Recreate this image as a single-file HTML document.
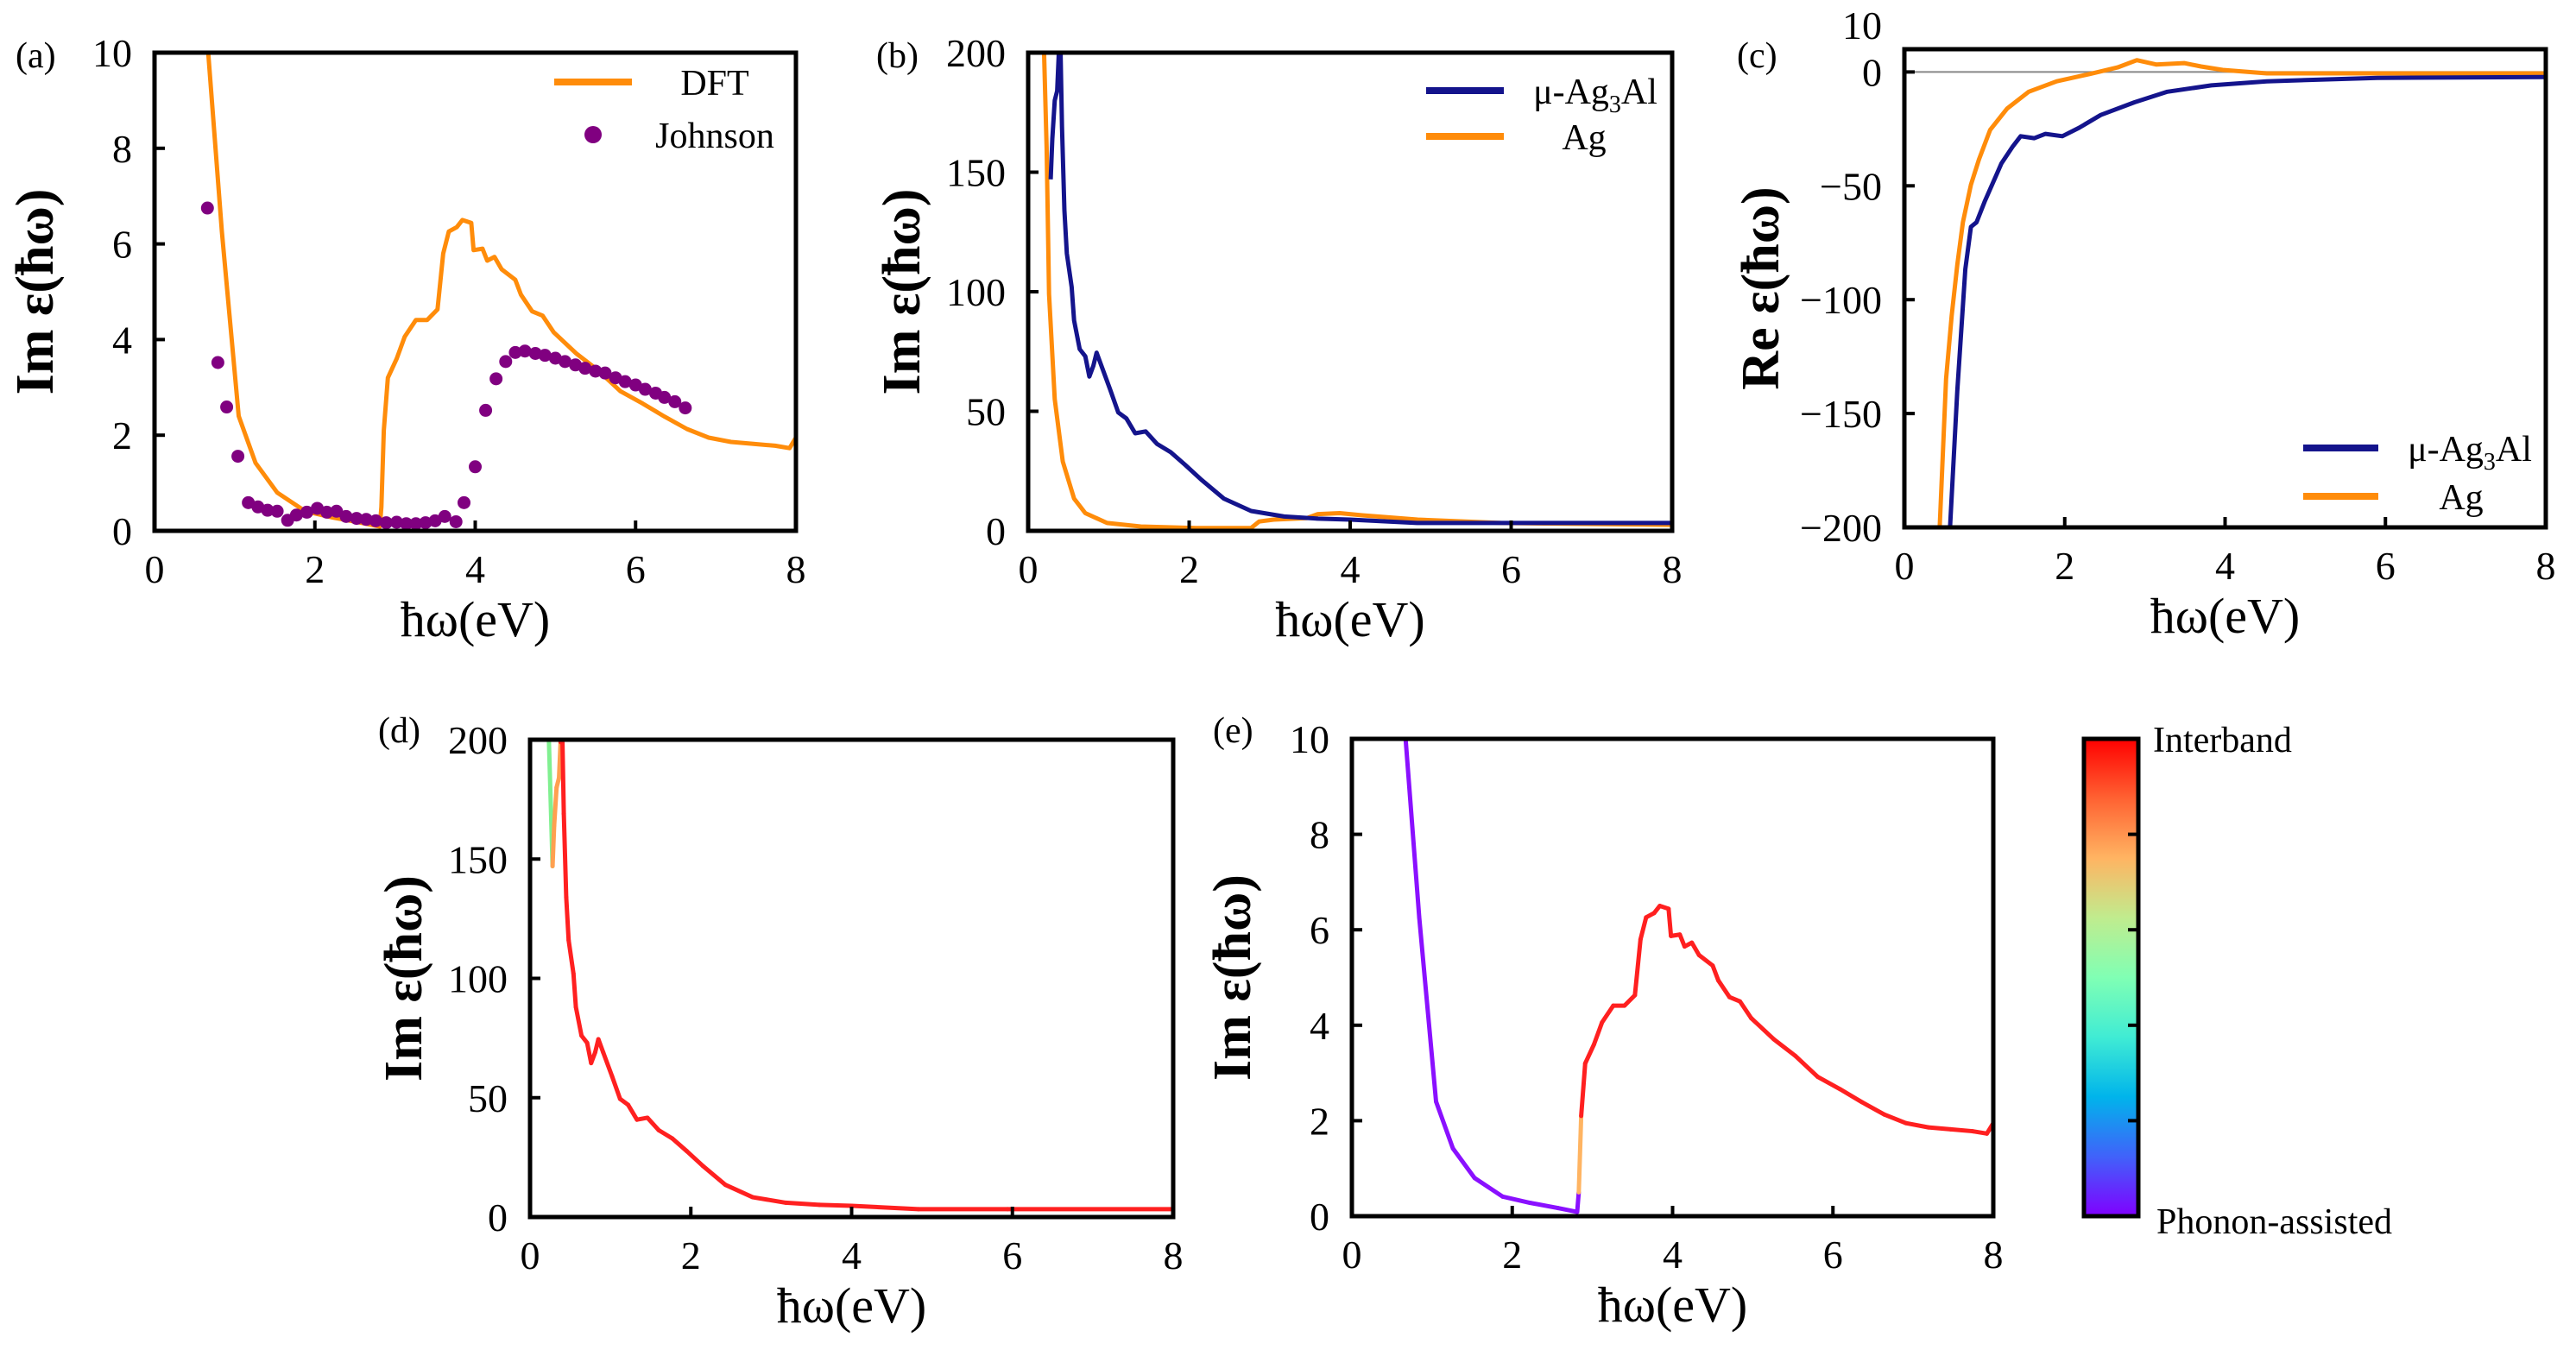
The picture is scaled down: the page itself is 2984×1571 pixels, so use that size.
<!DOCTYPE html>
<html><head><meta charset="utf-8"><style>
html,body{margin:0;padding:0;background:#fff;}
svg{display:block;font-family:"Liberation Serif",serif;}
</style></head><body>
<svg id="fig" width="2984" height="1571" viewBox="0 0 2984 1571" xmlns="http://www.w3.org/2000/svg">
<defs>
<linearGradient id="rainbow" x1="0" y1="1" x2="0" y2="0">
<stop offset="0" stop-color="#8000ff"/><stop offset="0.125" stop-color="#4062fa"/><stop offset="0.25" stop-color="#00b4eb"/><stop offset="0.375" stop-color="#40ecd4"/><stop offset="0.5" stop-color="#80ffb4"/><stop offset="0.625" stop-color="#c0ec8e"/><stop offset="0.75" stop-color="#ffb462"/><stop offset="0.875" stop-color="#ff6232"/><stop offset="1" stop-color="#ff0000"/>
</linearGradient>
</defs>
</svg>
<script>
// ---- data ----
const xTickVals=[0,2,4,6,8];
const imSmallTicks=[0,2,4,6,8,10];
const imLargeTicks=[0,50,100,150,200];
const reTicks=[10,0,-50,-100,-150,-200];
const reTickLabels=["10","0","\u221250","\u2212100","\u2212150","\u2212200"];

const dftX=[0.65,0.67,0.84,1.05,1.26,1.53,1.88,2.22,2.57,2.81,2.83,2.86,2.91,3.02,3.12,3.26,3.40,3.53,3.60,3.67,3.77,3.84,3.95,3.98,4.09,4.15,4.24,4.33,4.50,4.57,4.71,4.84,4.98,5.26,5.53,5.81,6.09,6.36,6.64,6.91,7.19,7.47,7.74,7.92,8.0];
const dftY=[11,10,6.26,2.4,1.42,0.8,0.41,0.28,0.17,0.09,0.5,2.1,3.2,3.6,4.06,4.41,4.41,4.63,5.8,6.26,6.35,6.5,6.44,5.87,5.9,5.65,5.73,5.47,5.25,4.94,4.59,4.5,4.15,3.71,3.36,2.92,2.66,2.39,2.13,1.95,1.86,1.82,1.78,1.73,1.95];

const johnsonX=[0.66,0.79,0.90,1.04,1.17,1.29,1.41,1.53,1.66,1.77,1.90,2.03,2.15,2.27,2.39,2.52,2.64,2.76,2.89,3.02,3.14,3.26,3.38,3.50,3.62,3.76,3.86,4.0,4.13,4.26,4.38,4.5,4.62,4.75,4.87,5.0,5.12,5.25,5.37,5.5,5.62,5.75,5.87,6.0,6.12,6.25,6.36,6.49,6.62];
const johnsonY=[6.75,3.52,2.59,1.56,0.59,0.5,0.43,0.41,0.22,0.33,0.39,0.47,0.39,0.41,0.3,0.26,0.24,0.21,0.17,0.18,0.15,0.15,0.17,0.21,0.3,0.19,0.59,1.34,2.52,3.18,3.54,3.73,3.76,3.71,3.67,3.61,3.54,3.47,3.4,3.34,3.3,3.2,3.12,3.05,2.96,2.88,2.79,2.7,2.57];

const ag3alImX=[0.28,0.30,0.33,0.36,0.38,0.40,0.42,0.45,0.48,0.54,0.57,0.64,0.71,0.76,0.81,0.85,0.91,1.02,1.12,1.22,1.33,1.46,1.60,1.77,1.95,2.15,2.43,2.77,3.18,3.6,4.0,4.83,5.94,8.0];
const ag3alImY=[147,164,180,184,199,205,169,134,116,102,88,76,73,64.5,69,74.5,69,59,49.5,47,40.8,41.6,36.4,32.9,27.6,21.4,13.5,8.3,6,5.1,4.7,3.3,3.3,3.3];

const agImX=[0.19,0.23,0.26,0.33,0.43,0.57,0.71,0.98,1.4,2.08,2.77,2.87,3.05,3.46,3.6,3.87,4.15,4.84,5.87,8.0];
const agImY=[210,160,99,55,29,13.5,7.4,3.3,1.8,1.2,1.2,3.9,4.7,5.3,7.0,7.4,6.5,4.7,3.3,2.5];

const agReX=[0.42,0.44,0.52,0.59,0.66,0.73,0.83,0.93,1.07,1.28,1.55,1.9,2.31,2.66,2.9,3.14,3.49,3.7,3.97,4.52,8.0];
const agReY=[-215,-200,-134.8,-107,-84.7,-66,-49.5,-38.4,-25.4,-16.1,-8.7,-4.1,-0.9,2,5.2,3.3,3.9,2.4,0.9,-0.6,-0.6];

const ag3alReX=[0.56,0.57,0.66,0.76,0.83,0.9,1.0,1.14,1.21,1.35,1.45,1.62,1.76,1.97,2.18,2.45,2.87,3.28,3.83,4.52,5.9,8.0];
const ag3alReY=[-215,-200,-140,-86.6,-68,-66,-57,-45.8,-40.2,-32.8,-28.2,-29.1,-27.2,-28.2,-24.5,-18.9,-13.3,-8.7,-5.9,-4.1,-2.6,-2.2];

const dPrefixX=[0.23];
const dPrefixY=[205];
const dBreaks=[0.29,0.38];
const dColors=["#80f090","#ffa050","#ff2020"];
const eBreaks=[2.83,2.86];
const eColors=["#8a10ff","#ffb462","#ff2020"];
const cbTickFrac=[0.2,0.4,0.6,0.8];

// ---- helpers ----
const NS="http://www.w3.org/2000/svg";
const svg=document.getElementById("fig");
function el(tag,attrs,parent){const e=document.createElementNS(NS,tag);for(const k in attrs)e.setAttribute(k,attrs[k]);(parent||svg).appendChild(e);return e;}
function scales(f,xd,yd){return{x:v=>f.l+(v-xd[0])/(xd[1]-xd[0])*(f.r-f.l),y:v=>f.b-(v-yd[0])/(yd[1]-yd[0])*(f.b-f.t)};}
let clipId=0;
function panel(name,f,xd,yd,yt,ytl,ytitle,letter,raiseTop){
  const g=el("g",{});
  
  
  const s=scales(f,xd,yd);
  const cid="clip"+(clipId++);
  const cp=el("clipPath",{id:cid},g);el("rect",{x:f.l,y:f.t,width:f.r-f.l,height:f.b-f.t},cp);
  const plot=el("g",{"clip-path":"url(#"+cid+")"},g);
  
  
  xTickVals.forEach(v=>{
    const t=el("line",{x1:s.x(v),x2:s.x(v),y1:f.b,y2:f.b-12,stroke:"#000","stroke-width":4},g);
    
    
    const tl=el("text",{x:s.x(v),y:f.b+60,"text-anchor":"middle","font-size":46},g);tl.textContent=String(v);
    
    
  });
  yt.forEach((v,i)=>{
    const t=el("line",{x1:f.l,x2:f.l+12,y1:s.y(v),y2:s.y(v),stroke:"#000","stroke-width":4},g);
    
    
    const off=(raiseTop&&i===0)?-28:0;
    const tl=el("text",{x:f.l-26,y:s.y(v)+16+off,"text-anchor":"end","font-size":46},g);tl.textContent=ytl?ytl[i]:String(v);
    
    
  });
  const xt=el("text",{x:(f.l+f.r)/2,y:f.b+122,"text-anchor":"middle","font-size":58},g);xt.textContent="\u0127\u03c9(eV)";
  
  
  const cy=(f.t+f.b)/2;
  const tx=f.l-(f.tOff||118);
  const yT=el("text",{x:tx,y:cy,"text-anchor":"middle","font-size":62,"font-weight":"bold",transform:"rotate(-90 "+tx+" "+cy+")"},g);yT.textContent=ytitle;
  
  
  const lt=el("text",{x:f.lx,y:f.ly,"font-size":42},g);lt.textContent=letter;
  
  
  return {g,plot,s,f};
}
function frame(p){const r=el("rect",{x:p.f.l,y:p.f.t,width:p.f.r-p.f.l,height:p.f.b-p.f.t,fill:"none",stroke:"#000","stroke-width":5},p.g);
  
  }
function line(p,xs,ys,color,w,name){
  const d=xs.map((x,i)=>(i?"L":"M")+p.s.x(x).toFixed(1)+","+p.s.y(ys[i]).toFixed(1)).join("");
  const e=el("path",{d:d,fill:"none",stroke:color,"stroke-width":w,"stroke-linejoin":"round"},p.plot);
  
  
}
function segLine(p,xs,ys,breaks,colors,w,name){
  for(let i=0;i<xs.length-1;i++){
    const mid=(xs[i]+xs[i+1])/2;let c=colors[colors.length-1];
    for(let k=0;k<breaks.length;k++){if(mid<breaks[k]){c=colors[k];break;}}
    const e=el("line",{x1:p.s.x(xs[i]),y1:p.s.y(ys[i]),x2:p.s.x(xs[i+1]),y2:p.s.y(ys[i+1]),stroke:c,"stroke-width":w,"stroke-linecap":"round"},p.plot);
    
    
  }
}
function legLine(g,x1,x2,y,color,name){const e=el("line",{x1:x1,x2:x2,y1:y,y2:y,stroke:color,"stroke-width":8},g);
  
  }
function legText(g,x,y,html,name){const e=el("text",{x:x,y:y,"text-anchor":"middle","font-size":42},g);e.innerHTML=html;
  
  }

const ORANGE="#ff8c0a",NAVY="#14148c";
const ag3alLabel='\u03bc-Ag<tspan font-size="28" dy="10">3</tspan><tspan dy="-10">Al</tspan>';

// (a)
const pa=panel("panel-a",{l:179,r:922,t:61,b:615,lx:18,ly:78},[0,8],[0,10],imSmallTicks,null,"Im \u03b5(\u0127\u03c9)","(a)");
line(pa,dftX,dftY,ORANGE,5,"dft-line");
johnsonX.forEach((x,i)=>{const c=el("circle",{cx:pa.s.x(x),cy:pa.s.y(johnsonY[i]),r:7.5,fill:"#800080"},pa.plot);
  
  });
frame(pa);
legLine(pa.g,642,732,95,ORANGE,"legend-dft-line");legText(pa.g,828,110,"DFT","legend-dft-label");
{const c=el("circle",{cx:687,cy:156,r:10,fill:"#800080"},pa.g);
  
  }
legText(pa.g,828,171,"Johnson","legend-johnson-label");

// (b)
const pb=panel("panel-b",{l:1191,r:1937,t:61,b:615,lx:1015,ly:78,tOff:126},[0,8],[0,200],imLargeTicks,null,"Im \u03b5(\u0127\u03c9)","(b)");
line(pb,agImX,agImY,ORANGE,5,"ag-im-line");
line(pb,ag3alImX,ag3alImY,NAVY,5,"ag3al-im-line");
frame(pb);
legLine(pb.g,1652,1742,105,NAVY,"legend-ag3al-line");legText(pb.g,1848,120,ag3alLabel,"legend-ag3al-label");
legLine(pb.g,1652,1742,158,ORANGE,"legend-ag-line");legText(pb.g,1835,173,"Ag","legend-ag-label");

// (c)
const pc=panel("panel-c",{l:2206,r:2949,t:57,b:611,lx:2012,ly:78,tOff:146},[0,8],[-200,10],reTicks,reTickLabels,"Re \u03b5(\u0127\u03c9)","(c)",true);
{const z=el("line",{x1:2206,x2:2949,y1:pc.s.y(0),y2:pc.s.y(0),stroke:"#888","stroke-width":2},pc.plot);
  
  }
line(pc,agReX,agReY,ORANGE,5,"ag-re-line");
line(pc,ag3alReX,ag3alReY,NAVY,5,"ag3al-re-line");
frame(pc);
legLine(pc.g,2668,2755,519,NAVY,"legend-ag3al-line");legText(pc.g,2861,534,ag3alLabel,"legend-ag3al-label");
legLine(pc.g,2668,2755,575,ORANGE,"legend-ag-line");legText(pc.g,2851,590,"Ag","legend-ag-label");

// (d)
const pd=panel("panel-d",{l:614,r:1359,t:857,b:1410,lx:438,ly:860,tOff:126},[0,8],[0,200],imLargeTicks,null,"Im \u03b5(\u0127\u03c9)","(d)");
segLine(pd,dPrefixX.concat(ag3alImX),dPrefixY.concat(ag3alImY),dBreaks,dColors,5,"ag3al-im-colored-line");
frame(pd);

// (e)
const pe=panel("panel-e",{l:1566,r:2309,t:856,b:1409,lx:1405,ly:860},[0,8],[0,10],imSmallTicks,null,"Im \u03b5(\u0127\u03c9)","(e)");
segLine(pe,dftX,dftY,eBreaks,eColors,5,"dft-colored-line");
frame(pe);

// colorbar
{const g=el("g",{});
 
 
 const r=el("rect",{x:2414,y:856,width:63,height:553,fill:"url(#rainbow)",stroke:"#000","stroke-width":5},g);
 
 
 cbTickFrac.forEach(f=>{const y=1409-f*553;const t=el("line",{x1:2465,x2:2477,y1:y,y2:y,stroke:"#000","stroke-width":4},g);
   
   });
 const t1=el("text",{x:2494,y:871,"font-size":42},g);t1.textContent="Interband";
 
 
 const t2=el("text",{x:2498,y:1429,"font-size":42},g);t2.textContent="Phonon-assisted";
 
 
}
</script>
</body></html>
